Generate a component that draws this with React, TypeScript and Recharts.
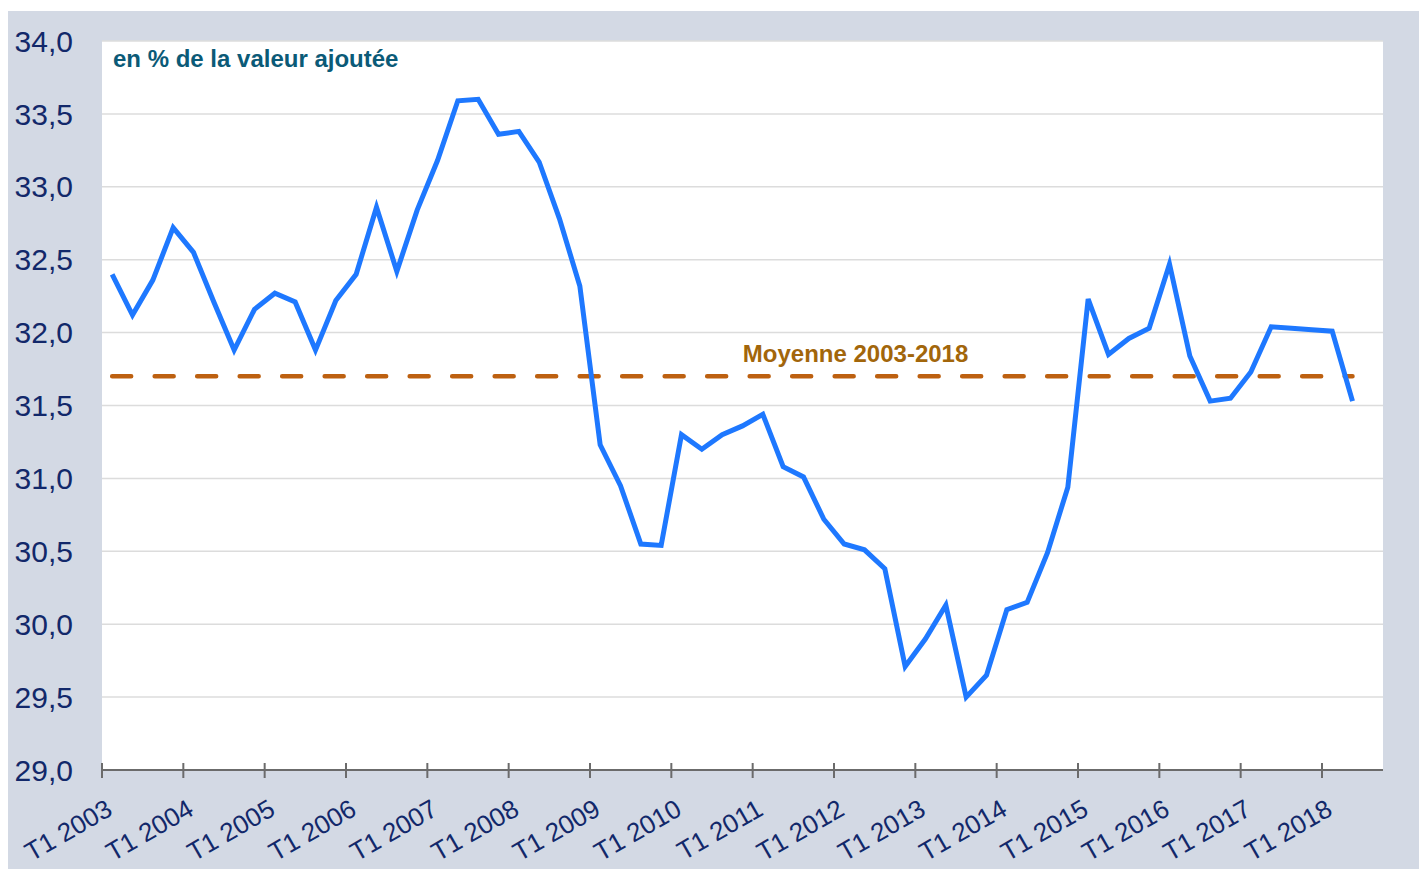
import { LineChart, Line, XAxis, YAxis, CartesianGrid, ReferenceDot } from 'recharts'

// part des profits, T1 2003 -> T2 2018 (trimestriel)
const values = [
  32.4, 32.12, 32.36, 32.72, 32.55, 32.21, 31.88, 32.16,
  32.27, 32.21, 31.88, 32.22, 32.4, 32.86, 32.42, 32.84,
  33.18, 33.59, 33.6, 33.36, 33.38, 33.17, 32.78, 32.32,
  31.23, 30.95, 30.55, 30.54, 31.3, 31.2, 31.3, 31.36,
  31.44, 31.08, 31.01, 30.72, 30.55, 30.51, 30.38, 29.71,
  29.9, 30.13, 29.5, 29.65, 30.1, 30.15, 30.49, 30.94,
  32.23, 31.85, 31.96, 32.03, 32.47, 31.84, 31.53, 31.55,
  31.73, 32.04, 32.03, 32.02, 32.01, 31.53,
]
const average = 31.7
const yearLabels = [
  'T1 2003', 'T1 2004', 'T1 2005', 'T1 2006', 'T1 2007', 'T1 2008',
  'T1 2009', 'T1 2010', 'T1 2011', 'T1 2012', 'T1 2013', 'T1 2014',
  'T1 2015', 'T1 2016', 'T1 2017', 'T1 2018',
]
const yTicks = [29, 29.5, 30, 30.5, 31, 31.5, 32, 32.5, 33, 33.5, 34]

const QUARTERS = 63 // one empty slot after the last point
const chartData = values.map((v, i) => ({ x: i + 0.5, v, avg: average }))
const xTicks = yearLabels.map((_, i) => i * 4)

const FONT = '"Liberation Sans", Arial, sans-serif'

function YearTick(props: any) {
  const { x, y, payload } = props
  const label = yearLabels[payload.value / 4]
  const tx = x + 12
  const ty = y + 44
  return (
    <g>
      <line x1={x} y1={y - 7} x2={x} y2={y + 8} stroke="#6b6b6b" strokeWidth={2} />
      <text
        x={tx}
        y={ty}
        textAnchor="end"
        transform={`rotate(-30, ${tx}, ${ty})`}
        fontSize={26}
        fontFamily={FONT}
        fill="#12286a"
      >
        {label}
      </text>
    </g>
  )
}

export default function App() {
  return (
    <div
      style={{
        position: 'absolute',
        left: 8,
        top: 11,
        width: 1411,
        height: 858,
        background: '#d3d9e4',
        fontFamily: FONT,
      }}
    >
      <LineChart
        width={1411}
        height={858}
        data={chartData}
        margin={{ top: 30, right: 36, left: 0, bottom: 9 }}
      >
        <CartesianGrid vertical={false} fill="#ffffff" stroke="#dcdcdc" strokeWidth={1.5} />
        <XAxis
          dataKey="x"
          type="number"
          domain={[0, QUARTERS]}
          ticks={xTicks}
          interval={0}
          tick={<YearTick />}
          tickSize={0}
          tickMargin={0}
          tickLine={false}
          height={90}
          stroke="#6b6b6b"
          strokeWidth={2}
        />
        <YAxis
          domain={[29, 34]}
          ticks={yTicks}
          interval={0}
          width={94}
          axisLine={false}
          tickLine={false}
          tickSize={0}
          tickMargin={29}
          tickFormatter={(v: number) => v.toFixed(1).replace('.', ',')}
          tick={{ fontSize: 30, fill: '#12286a', fontFamily: FONT }}
        />
        <Line
          dataKey="avg"
          stroke="#bd6010"
          strokeWidth={4.5}
          strokeDasharray="19 23.5"
          strokeLinecap="round"
          dot={false}
          isAnimationActive={false}
        />
        <Line
          dataKey="v"
          stroke="#1e78ff"
          strokeWidth={5}
          dot={false}
          isAnimationActive={false}
        />
        <ReferenceDot
          x={37.06}
          y={average}
          r={0}
          fill="none"
          stroke="none"
          label={{
            value: 'Moyenne 2003-2018',
            position: 'top',
            offset: 14,
            fill: '#a2660b',
            fontSize: 24,
            fontWeight: 'bold',
            fontFamily: FONT,
          }}
        />
      </LineChart>
      <div
        style={{
          position: 'absolute',
          left: 105,
          top: 36,
          fontSize: 24,
          lineHeight: '24px',
          fontWeight: 'bold',
          color: '#0b5a77',
        }}
      >
        en % de la valeur ajoutée
      </div>
    </div>
  )
}
